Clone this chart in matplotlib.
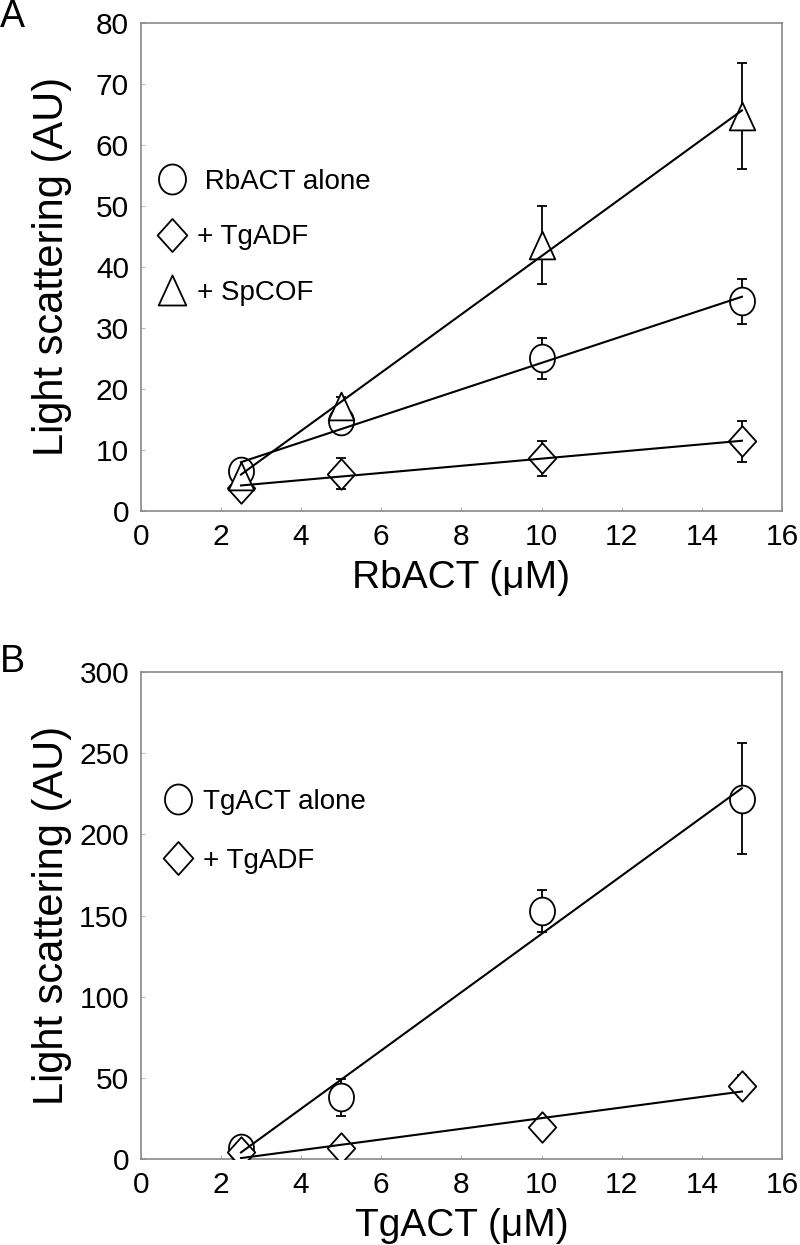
import matplotlib
matplotlib.use("Agg")
import matplotlib.pyplot as plt
from matplotlib.path import Path
import numpy as np

plt.rcParams['font.family'] = ['Liberation Sans', 'DejaVu Sans']

conc = [2.5, 5, 10, 15]

# panel A : rabbit actin
rb_alone = [6.6, 14.8, 25.0, 34.4]
rb_alone_err = [0, 2.0, 3.4, 3.7]
rb_tgadf = [3.8, 6.1, 8.6, 11.4]
rb_tgadf_err = [0, 2.5, 2.8, 3.4]
rb_spcof = [5.8, 17.2, 43.6, 64.7]
rb_spcof_err = [0, 1.5, 6.4, 8.7]

# panel B : toxoplasma actin
tg_alone = [7.0, 38.0, 153.0, 222.0]
tg_alone_err = [0, 11.4, 13.0, 34.0]
tg_tgadf = [4.0, 7.0, 20.0, 45.0]
tg_tgadf_err = [0, 0, 0, 7.0]

# slightly tall markers, like in the original figure
t = np.linspace(0, 2 * np.pi, 60)
ellipse = Path(np.column_stack([0.9 * np.cos(t), np.sin(t)]), closed=True)
diamond = Path([(0, 1), (0.9, 0), (0, -1), (-0.9, 0), (0, 1)], closed=True)
triangle = Path([(0, 1), (0.92, -1), (-0.92, -1), (0, 1)], closed=True)

fig = plt.figure(figsize=(8, 12.45), dpi=100)
axA = fig.add_axes([0.176, 0.5896, 0.8015, 0.392])
axB = fig.add_axes([0.176, 0.0691, 0.8015, 0.3911])

def draw_series(ax, y, err, marker, label, ms=20):
    x = np.array(conc)
    p = np.polyfit(x, y, 1)
    xx = np.array([x[0], x[-1]])
    ax.errorbar(x, y, yerr=err, fmt='none', ecolor='black', elinewidth=1.3,
                capsize=3.6, capthick=1.3, zorder=3)
    ax.plot(x, y, linestyle='none', marker=marker, ms=ms, mfc='white',
            mec='black', mew=1.3, zorder=4, label=label)
    # regression line sits on top of the symbols
    ax.plot(xx, np.polyval(p, xx), color='black', lw=1.5, zorder=5)

draw_series(axA, rb_alone, rb_alone_err, ellipse, ' RbACT alone')
draw_series(axA, rb_tgadf, rb_tgadf_err, diamond, '+ TgADF', ms=22)
draw_series(axA, rb_spcof, rb_spcof_err, triangle, '+ SpCOF')

draw_series(axB, tg_alone, tg_alone_err, ellipse, 'TgACT alone')
draw_series(axB, tg_tgadf, tg_tgadf_err, diamond, '+ TgADF', ms=22)

panels = [(axA, 80, 10, 'RbACT (\u03bcM)', 0.027, 0.701, 1.06),
          (axB, 300, 50, 'TgACT (\u03bcM)', 0.037, 0.760, 1.18)]
for ax, ymax, ystep, xlabel, lx, ly, lsp in panels:
    ax.set_xlim(0, 16)
    ax.set_ylim(0, ymax)
    ax.set_xticks(range(0, 17, 2))
    ax.set_yticks(np.arange(0, ymax + 1, ystep))
    for s in ax.spines.values():
        s.set_color('#888888')
        s.set_linewidth(1.2)
    ax.tick_params(direction='in', length=3, color='#bbbbbb', labelsize=21.5)
    ax.tick_params(axis='x', pad=9)
    ax.tick_params(axis='y', pad=8.5)
    ax.set_xlabel(xlabel, fontsize=28, labelpad=6)
    ax.set_ylabel('Light scattering (AU)', fontsize=30)
    ax.yaxis.set_label_coords(-0.108, 0.5)
    ax.legend(loc='upper left', bbox_to_anchor=(lx, ly), frameon=False,
              fontsize=20, handletextpad=0.4, labelspacing=lsp,
              handlelength=1.0, borderaxespad=0, borderpad=0, markerscale=1.08)

fig.text(0.0, 0.9783, 'A', fontsize=27, va='baseline')
fig.text(0.0, 0.4602, 'B', fontsize=27, va='baseline')

fig.savefig('out.png', dpi=100)
